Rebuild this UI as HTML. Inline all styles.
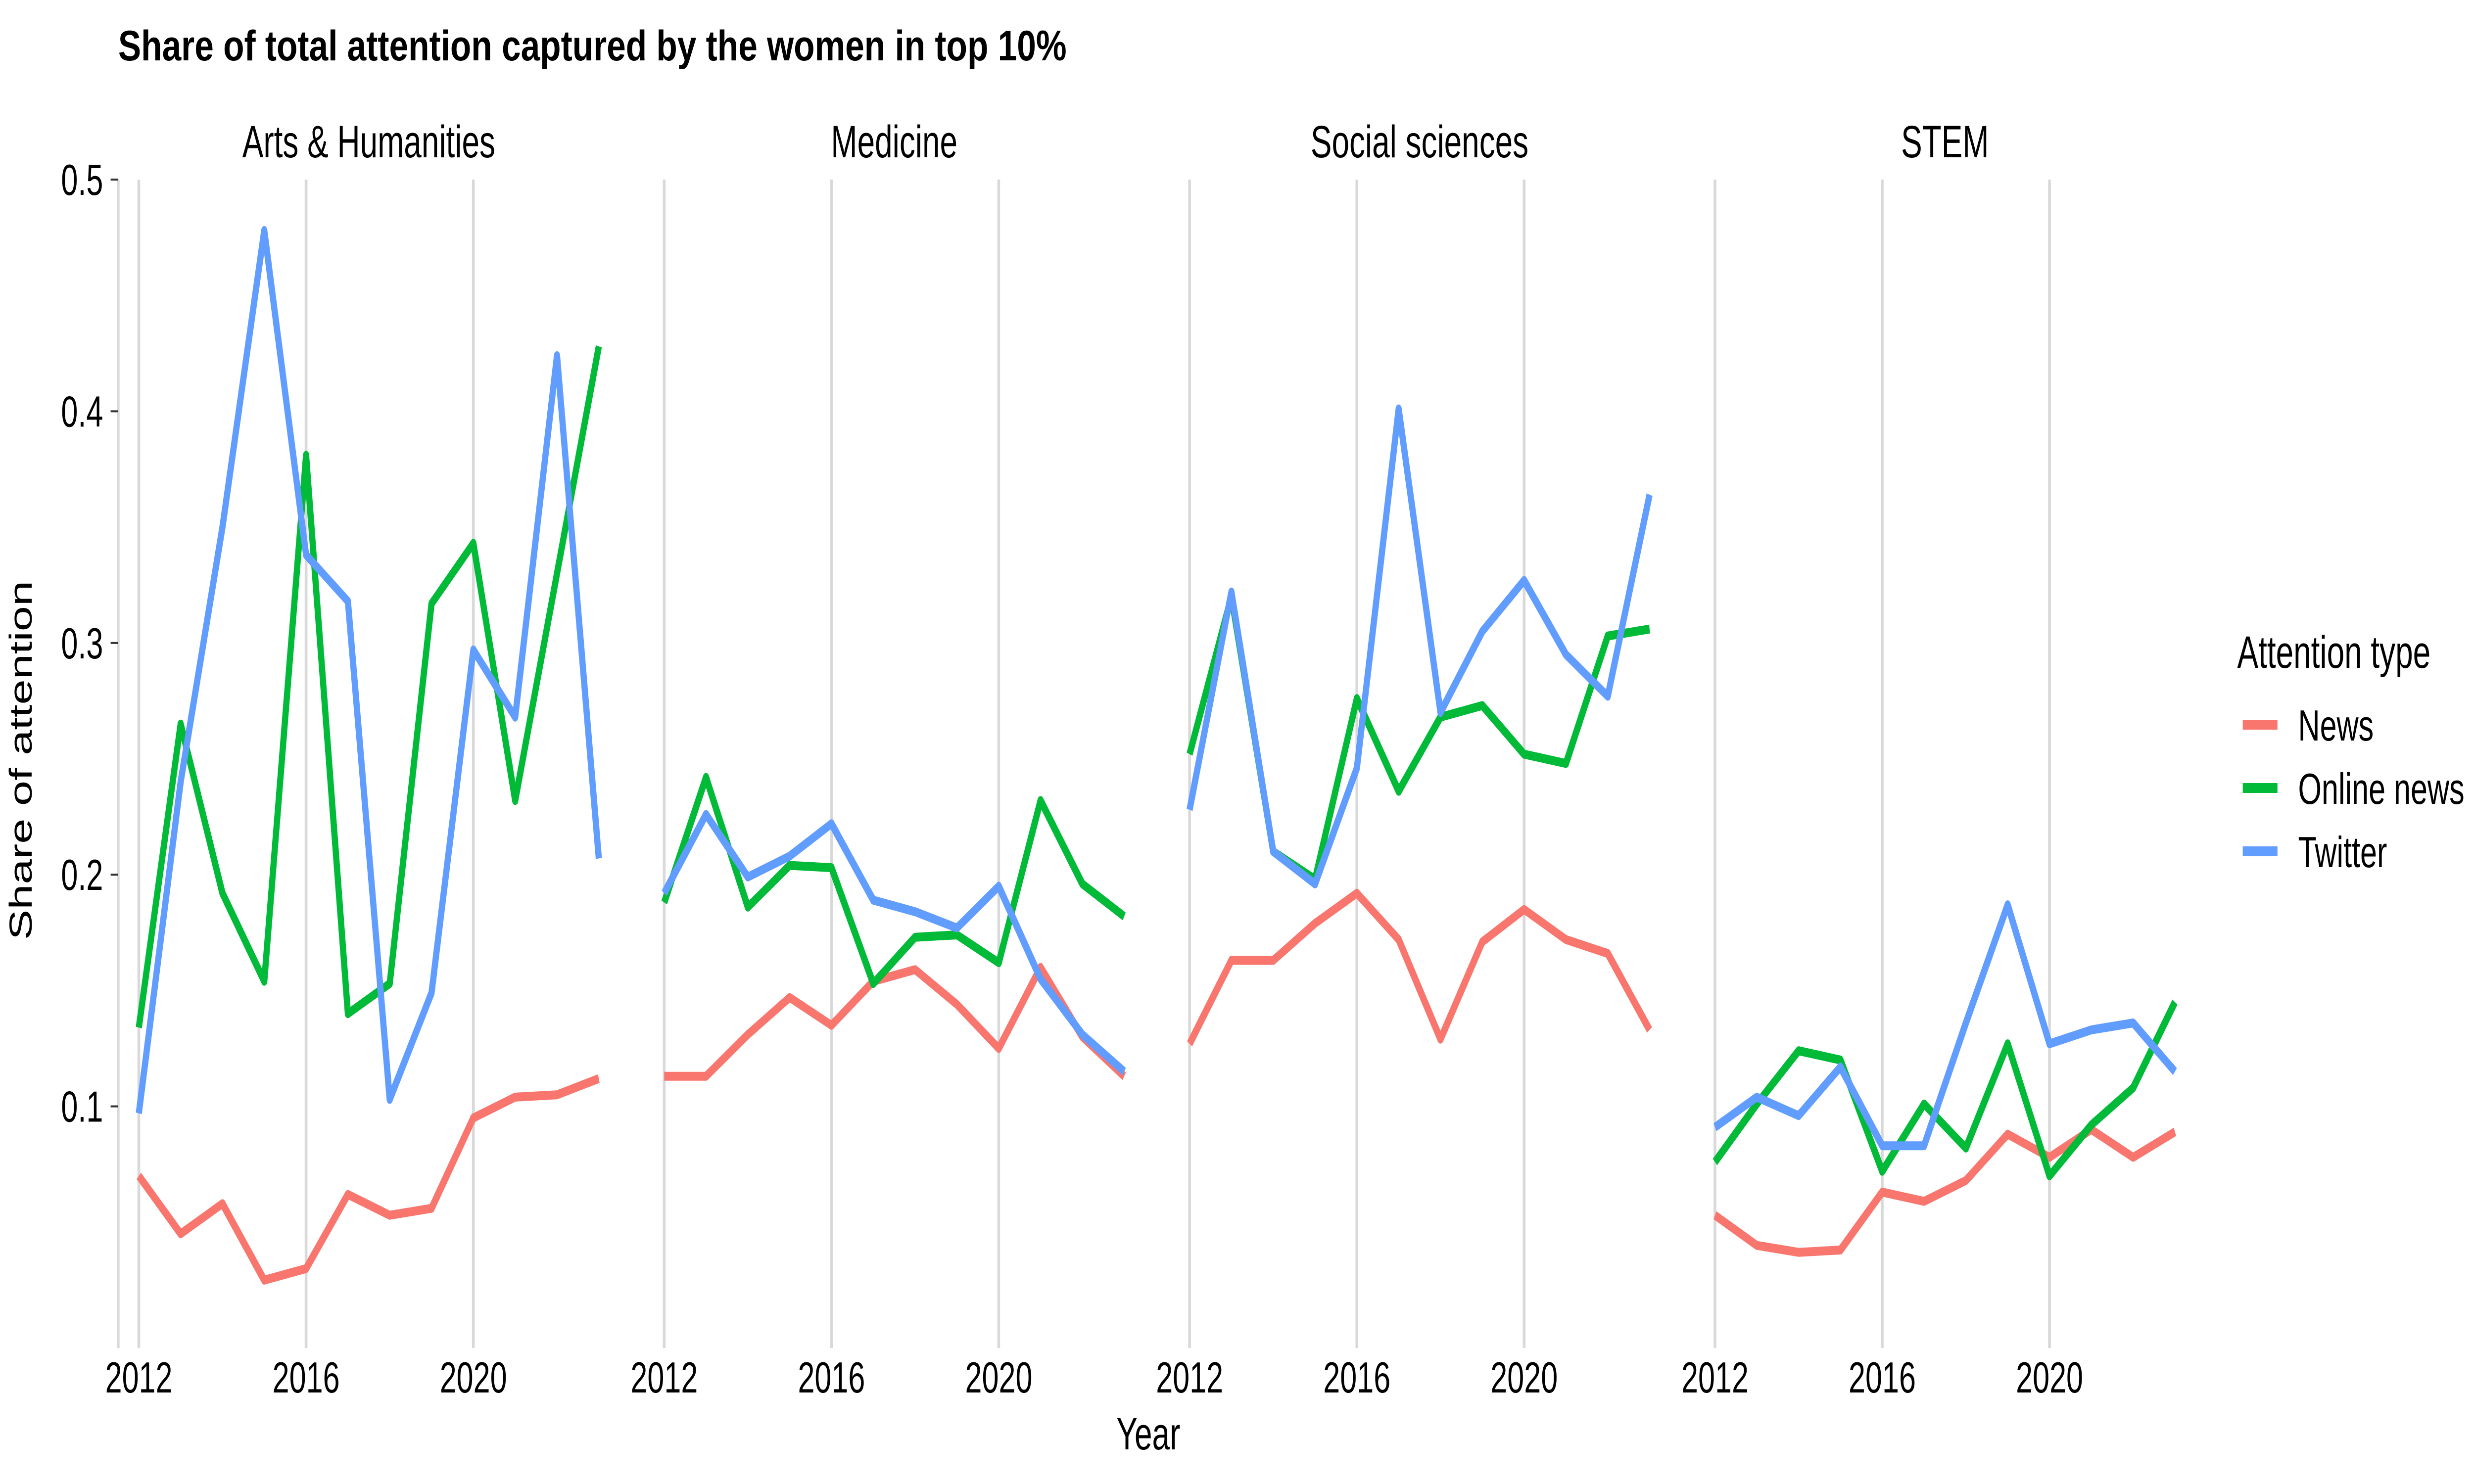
<!DOCTYPE html>
<html><head><meta charset="utf-8">
<style>html,body{margin:0;padding:0;background:#fff;width:100%;height:100%;overflow:hidden}svg{display:block;width:100vw;height:100vh;position:absolute;left:0;top:0}text{font-family:"Liberation Sans",sans-serif}</style>
</head><body>
<svg id="chart" viewBox="0 0 7200 3000" preserveAspectRatio="none">
<rect width="7200" height="3000" fill="#fff"/>
<text x="344" y="122" font-size="86" font-weight="bold" textLength="2760" lengthAdjust="spacingAndGlyphs">Share of total attention captured by the women in top 10%</text>
<g id="plots"></g>
<text x="92" y="1537" font-size="92" text-anchor="middle" transform="rotate(-90 92 1537)">Share of attention</text>
<text x="3342" y="2930" font-size="92" text-anchor="middle">Year</text>
<g>
<text x="6511" y="1350" font-size="92">Attention type</text>
<line x1="6527" x2="6628" y1="1465" y2="1465" stroke="#F8766D" stroke-width="20"/>
<text x="6688" y="1497" font-size="88">News</text>
<line x1="6527" x2="6628" y1="1593" y2="1593" stroke="#00BA38" stroke-width="20"/>
<text x="6688" y="1625" font-size="88">Online news</text>
<line x1="6527" x2="6628" y1="1721" y2="1721" stroke="#619CFF" stroke-width="20"/>
<text x="6688" y="1753" font-size="88">Twitter</text>
</g>
</svg>
<script>
const years = [2012,2013,2014,2015,2016,2017,2018,2019,2020,2021,2022,2023];
const panels = ["Arts & Humanities","Medicine","Social sciences","STEM"];
const seriesNames = ["News","Online news","Twitter"];
const yTicks = [0.1,0.2,0.3,0.4,0.5];
const xTicks = [2012,2016,2020];
const artsNews = [0.070,0.045,0.058,0.025,0.030,0.062,0.053,0.056,0.095,0.104,0.105,0.112];
const artsOnline = [0.134,0.265,0.192,0.154,0.381,0.140,0.153,0.317,0.343,0.232,0.330,0.428];
const artsTwitter = [0.097,0.240,0.350,0.478,0.338,0.318,0.103,0.149,0.297,0.268,0.424,0.207];
const medNews = [0.113,0.113,0.131,0.147,0.135,0.154,0.159,0.144,0.125,0.160,0.130,0.113];
const medOnline = [0.188,0.242,0.186,0.204,0.203,0.153,0.173,0.174,0.162,0.232,0.196,0.182];
const medTwitter = [0.192,0.226,0.199,0.208,0.222,0.189,0.184,0.177,0.195,0.155,0.131,0.115];
const socNews = [0.127,0.163,0.163,0.179,0.192,0.172,0.129,0.171,0.185,0.172,0.166,0.133];
const socOnline = [0.252,0.320,0.210,0.198,0.276,0.236,0.268,0.273,0.252,0.248,0.303,0.306];
const socTwitter = [0.228,0.322,0.210,0.196,0.246,0.401,0.270,0.305,0.327,0.295,0.277,0.364];
const stemNews = [0.053,0.040,0.037,0.038,0.063,0.059,0.068,0.088,0.078,0.090,0.078,0.089];
const stemOnline = [0.076,0.101,0.124,0.120,0.072,0.101,0.082,0.127,0.070,0.092,0.108,0.145];
const stemTwitter = [0.091,0.104,0.096,0.117,0.083,0.083,0.136,0.187,0.127,0.133,0.136,0.115];
const panelData = [[artsNews,artsOnline,artsTwitter],[medNews,medOnline,medTwitter],[socNews,socOnline,socTwitter],[stemNews,stemOnline,stemTwitter]];
const colors = ["#F8766D","#00BA38","#619CFF"];
const NS = "http://www.w3.org/2000/svg";
const g = document.getElementById("plots");
const X0 = 404, YR = 121.7, POFF = 1529, PT = 363, PB = 2725;
function xs(p, yr){ return X0 + p*POFF + (yr-2012)*YR; }
function ys(v){ return PT + (0.5 - v)*4684; }
function mk(tag, attrs){ const e=document.createElementNS(NS,tag); for(const k in attrs) e.setAttribute(k,attrs[k]); g.appendChild(e); return e; }
const ax = mk("line",{x1:344,x2:344,y1:PT,y2:PB,stroke:"#d9d9d9","stroke-width":8});


yTicks.forEach(t=>{
  const tk = mk("line",{x1:322,x2:344,y1:ys(t),y2:ys(t),stroke:"#333","stroke-width":4});
  
  
  const tl = mk("text",{x:300,y:ys(t)+31,"font-size":88,"text-anchor":"end"});
  tl.textContent = t.toFixed(1);
  
  
});
panels.forEach((name,p)=>{
  const cx = xs(p,2012) + 5.5*YR;
  const st = mk("text",{x:cx,y:318,"font-size":92,"text-anchor":"middle"});
  st.textContent = name;
  
  
  xTicks.forEach(t=>{
    const gl = mk("line",{x1:xs(p,t),x2:xs(p,t),y1:PT,y2:PB,stroke:"#d9d9d9","stroke-width":8});
    
    
    const tl = mk("text",{x:xs(p,t),y:2815,"font-size":88,"text-anchor":"middle"});
    tl.textContent = t;
    
    
  });
  panelData[p].forEach((vals,s)=>{
    const pts = vals.map((v,i)=>xs(p,years[i]).toFixed(1)+","+ys(v).toFixed(1)).join(" ");
    const pl = mk("polyline",{points:pts,fill:"none",stroke:colors[s],"stroke-width":18,"stroke-linejoin":"round"});
    
    
  });
});
</script>
</body></html>
